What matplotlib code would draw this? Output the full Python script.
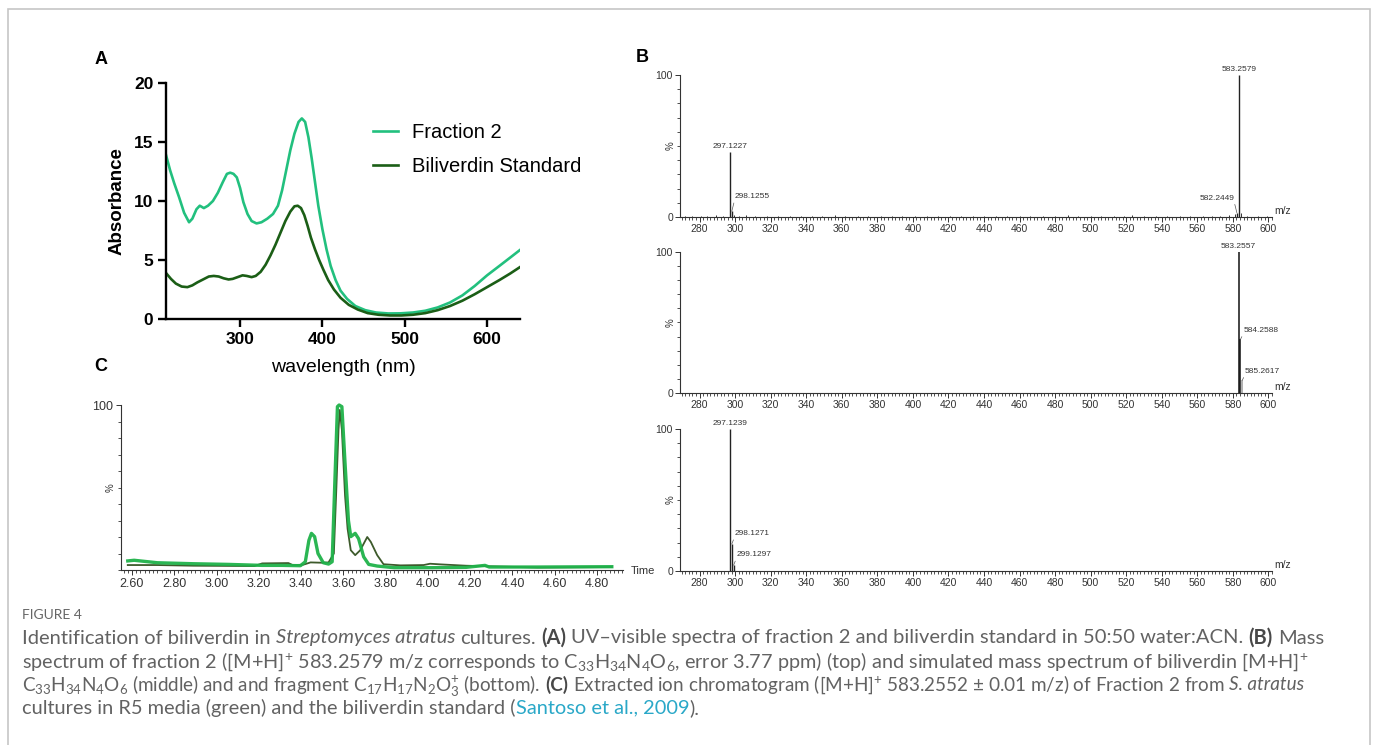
import matplotlib
matplotlib.use("Agg")
import matplotlib.pyplot as plt
from matplotlib.ticker import MultipleLocator

plt.rcParams['font.family'] = ['Liberation Sans', 'DejaVu Sans']
plt.rcParams['mathtext.fontset'] = 'custom'
plt.rcParams['mathtext.rm'] = 'Lato'
plt.rcParams['mathtext.it'] = 'Lato:italic'
plt.rcParams['mathtext.bf'] = 'Lato:bold'

# ---------------- data: panel A (UV-vis) ----------------
wl_frac = [210, 215, 220, 226, 232, 238, 242, 247, 251, 256, 261, 267, 273, 279, 284, 288,
           292, 296, 300, 304, 309, 314, 320, 326, 333, 340, 346, 351, 356, 361, 366, 371,
           375, 379, 383, 387, 391, 395, 400, 405, 410, 416, 422, 430, 440, 452, 465, 480,
           495, 510, 525, 540, 555, 570, 585, 600, 615, 628, 640]
abs_frac = [13.9, 12.6, 11.5, 10.3, 9.0, 8.2, 8.5, 9.3, 9.6, 9.4, 9.6, 10.0, 10.7, 11.6, 12.3, 12.4,
            12.3, 12.0, 11.1, 9.9, 8.9, 8.3, 8.1, 8.2, 8.5, 8.9, 9.6, 10.9, 12.6, 14.3, 15.7, 16.7,
            17.0, 16.7, 15.4, 13.6, 11.6, 9.6, 7.6, 5.9, 4.5, 3.3, 2.4, 1.7, 1.1, 0.75, 0.55, 0.47,
            0.48, 0.55, 0.7, 0.98, 1.4, 2.0, 2.8, 3.7, 4.5, 5.2, 5.85]

wl_std = [210, 216, 222, 229, 236, 242, 248, 255, 262, 268, 274, 280, 286, 291, 297, 303,
          308, 314, 319, 325, 331, 337, 343, 349, 355, 361, 366, 370, 374, 378, 382, 386,
          391, 396, 401, 407, 414, 422, 432, 443, 455, 468, 482, 496, 510, 525, 540, 555,
          570, 585, 600, 615, 628, 640]
abs_std = [3.9, 3.4, 3.0, 2.75, 2.7, 2.85, 3.1, 3.35, 3.6, 3.65, 3.6, 3.45, 3.35, 3.4, 3.55, 3.7,
           3.65, 3.55, 3.65, 4.0, 4.6, 5.4, 6.3, 7.3, 8.3, 9.1, 9.55, 9.6, 9.4, 8.8, 7.9, 6.9,
           5.9, 5.0, 4.2, 3.3, 2.5, 1.8, 1.2, 0.8, 0.5, 0.36, 0.3, 0.3, 0.36, 0.5, 0.75, 1.1,
           1.55, 2.1, 2.7, 3.3, 3.85, 4.4]

# ---------------- data: panel B (mass spectra) ----------------
top_mz = [297.1227, 298.1255, 582.2449, 583.2579]
top_int = [46, 4, 3, 100]
top_noise_mz = [272, 276, 281, 284, 289, 293, 299.1, 302, 306, 311, 318, 324, 331, 337, 343,
                349, 356, 362, 369, 375, 382, 388, 394, 401, 408, 414, 421, 427, 434, 440,
                447, 453, 460, 466, 473, 480, 487, 493, 500, 506, 513, 519, 523, 530, 537,
                543, 550, 556, 563, 568, 573, 578, 581, 584.3, 588, 594, 599]
top_noise_int = [0.6, 0.8, 1.0, 0.7, 1.2, 0.6, 1.5, 0.8, 1.2, 0.7, 0.6, 0.8, 0.7, 0.9, 0.6,
                 1.0, 1.2, 0.6, 0.8, 0.7, 0.9, 0.6, 0.8, 0.7, 0.6, 0.9, 0.7, 0.6, 0.8, 1.0,
                 0.6, 0.8, 0.7, 0.6, 0.8, 0.7, 1.6, 0.7, 0.8, 0.6, 0.9, 0.7, 1.5, 0.6, 0.8,
                 0.7, 0.8, 0.6, 0.9, 0.7, 1.0, 1.2, 1.8, 2.5, 0.8, 0.6, 0.7]
mid_mz = [583.2557, 584.2588, 585.2617]
mid_int = [100, 38, 9]
bot_mz = [297.1239, 298.1271, 299.1297]
bot_int = [100, 19, 4]
mz_ticks = list(range(280, 601, 20))

# ---------------- data: panel C (extracted ion chromatogram) ----------------
t_frac = [2.58, 2.61, 2.72, 2.89, 3.056, 3.216, 3.31, 3.397, 3.42, 3.437, 3.449, 3.464, 3.48,
          3.505, 3.53, 3.547, 3.56, 3.572, 3.58, 3.593, 3.608, 3.624, 3.635, 3.656, 3.672,
          3.696, 3.72, 3.76, 3.84, 4.02, 4.18, 4.27, 4.29, 4.52, 4.87]
i_frac = [5.5, 5.9, 4.4, 3.8, 3.4, 2.8, 2.8, 2.6, 5.0, 18, 22.2, 20.2, 10,
          4.4, 3.6, 5.0, 54.5, 99, 100, 99, 64.6, 30, 20.2, 22.2, 19,
          8, 3.4, 2.4, 1.4, 1.4, 1.6, 2.8, 1.8, 1.8, 2.0]
t_std = [2.58, 2.72, 2.89, 3.18, 3.216, 3.34, 3.36, 3.41, 3.445, 3.50, 3.53, 3.555, 3.567,
         3.577, 3.583, 3.593, 3.608, 3.62, 3.635, 3.656, 3.68, 3.713, 3.73, 3.76, 3.79,
         3.87, 3.98, 4.01, 4.06, 4.18, 4.52, 4.87]
i_std = [3.0, 3.0, 2.6, 2.4, 4.0, 4.2, 3.0, 3.2, 4.6, 4.4, 4.6, 10, 50,
         85, 97, 85, 45, 25, 12, 9, 12, 20, 17, 9, 3.5,
         2.8, 3.0, 3.8, 3.4, 2.6, 1.5, 1.8]
time_ticks = [2.6, 2.8, 3.0, 3.2, 3.4, 3.6, 3.8, 4.0, 4.2, 4.4, 4.6, 4.8]

W, H = 1375, 745
fig = plt.figure(figsize=(W / 100, H / 100), dpi=100)


def fbox(left, top, right, bottom):
    # pixel box -> figure fraction
    return [left / W, 1 - bottom / H, (right - left) / W, (bottom - top) / H]


# outer frame
fig.add_artist(plt.Rectangle((8 / W, -0.02), 1362 / W, 1 - 9 / H + 0.02, transform=fig.transFigure,
                             fill=False, edgecolor='#c6c6c6', lw=1.2))

# -------- Panel A --------
axA = fig.add_axes(fbox(166, 83, 520, 319))
axA.plot(wl_frac, abs_frac, color='#22c07e', lw=1.9, label='Fraction 2', solid_joinstyle='round')
axA.plot(wl_std, abs_std, color='#1b5e16', lw=1.9, label='Biliverdin Standard', solid_joinstyle='round')
axA.set_xlim(210, 640)
axA.set_ylim(0, 20)
axA.set_xticks([300, 400, 500, 600])
axA.set_yticks([0, 5, 10, 15, 20])
for s in ['top', 'right']:
    axA.spines[s].set_visible(False)
for s in ['left', 'bottom']:
    axA.spines[s].set_linewidth(1.7)
axA.tick_params(width=1.7, length=6, labelsize=12.5, pad=3)
plt.setp(axA.get_xticklabels() + axA.get_yticklabels(), fontweight='bold')
axA.set_xlabel('wavelength (nm)', fontsize=14, labelpad=9)
axA.set_ylabel('Absorbance', fontsize=13.5, fontweight='bold', labelpad=6)
axA.legend(loc='upper left', bbox_to_anchor=(0.585, 0.83), frameon=False, fontsize=14.5,
           handlelength=1.25, handletextpad=0.7, labelspacing=0.75, borderpad=0, borderaxespad=0)

# -------- Panel B --------
def spec_axes(box):
    ax = fig.add_axes(box)
    ax.set_xlim(269, 602)
    ax.set_ylim(0, 100)
    for s in ['top', 'right']:
        ax.spines[s].set_visible(False)
    for s in ['left', 'bottom']:
        ax.spines[s].set_linewidth(0.8)
        ax.spines[s].set_color('#333333')
    ax.set_xticks(mz_ticks)
    ax.xaxis.set_minor_locator(MultipleLocator(2))
    ax.set_yticks([0, 100])
    ax.set_yticklabels(['0', '100'])
    ax.yaxis.set_minor_locator(MultipleLocator(10))
    ax.tick_params(which='major', length=3.5, width=0.7, labelsize=7.5, pad=1.5, colors='#333333')
    ax.tick_params(which='minor', length=2, width=0.6, colors='#333333')
    ax.text(-0.016, 0.5, '%', rotation=90, transform=ax.transAxes, ha='center', va='center',
            fontsize=7, color='#333333')
    ax.text(1.004, 0.04, 'm/z', transform=ax.transAxes, ha='left', va='center', fontsize=7.5,
            color='#333333')
    return ax


lbl = dict(fontsize=6, color='#333333', textcoords='offset points')


def leader(relx):
    return dict(arrowstyle='-', lw=0.5, color='#555555', shrinkA=0, shrinkB=0, relpos=(relx, 0))


axB1 = spec_axes(fbox(680, 75, 1272, 217))
axB1.vlines(top_noise_mz, 0, top_noise_int, color='#333333', lw=0.7)
axB1.vlines(top_mz, 0, top_int, color='#222222', lw=1.0, clip_on=False)
axB1.annotate('297.1227', xy=(top_mz[0], top_int[0]), xytext=(0, 1.5), ha='center', va='bottom', **lbl)
axB1.annotate('298.1255', xy=(top_mz[1], top_int[1]), xytext=(2, 8), ha='left', va='bottom',
              arrowprops=leader(0), **lbl)
axB1.annotate('582.2449', xy=(top_mz[2], top_int[2]), xytext=(-2, 8), ha='right', va='bottom',
              arrowprops=leader(1), **lbl)
axB1.annotate('583.2579', xy=(top_mz[3], top_int[3]), xytext=(0, 1.5), ha='center', va='bottom',
              annotation_clip=False, **lbl)

axB2 = spec_axes(fbox(680, 252, 1272, 393))
axB2.vlines(mid_mz[:2], 0, mid_int[:2], color='#111111', lw=1.1, clip_on=False)
axB2.vlines(mid_mz[2:], 0, mid_int[2:], color='#9a9a9a', lw=1.1)
axB2.annotate('583.2557', xy=(mid_mz[0], mid_int[0]), xytext=(0, 1.5), ha='center', va='bottom',
              annotation_clip=False, **lbl)
axB2.annotate('584.2588', xy=(mid_mz[1], mid_int[1]), xytext=(2, 4), ha='left', va='bottom',
              arrowprops=leader(0), **lbl)
axB2.annotate('585.2617', xy=(mid_mz[2], mid_int[2]), xytext=(2, 4), ha='left', va='bottom',
              arrowprops=leader(0), **lbl)

axB3 = spec_axes(fbox(680, 429, 1272, 571))
axB3.vlines(bot_mz, 0, bot_int, color='#222222', lw=1.0, clip_on=False)
axB3.annotate('297.1239', xy=(bot_mz[0], bot_int[0]), xytext=(0, 1.5), ha='center', va='bottom',
              annotation_clip=False, **lbl)
axB3.annotate('298.1271', xy=(bot_mz[1], bot_int[1]), xytext=(2, 5), ha='left', va='bottom',
              arrowprops=leader(0), **lbl)
axB3.annotate('299.1297', xy=(bot_mz[2], bot_int[2]), xytext=(2, 5), ha='left', va='bottom',
              arrowprops=leader(0), **lbl)

# -------- Panel C --------
axC = fig.add_axes(fbox(121, 405, 623, 570))
axC.plot(t_std, i_std, color='#3d5a2b', lw=1.3, clip_on=False)
axC.plot(t_frac, i_frac, color='#1fb24a', lw=2.4, clip_on=False, alpha=0.95)
axC.set_xlim(2.548, 4.923)
axC.set_ylim(0, 100)
for s in ['top', 'right']:
    axC.spines[s].set_visible(False)
for s in ['left', 'bottom']:
    axC.spines[s].set_linewidth(0.8)
    axC.spines[s].set_color('#333333')
axC.set_xticks(time_ticks)
axC.set_xticklabels([f'{v:.2f}' for v in time_ticks])
axC.xaxis.set_minor_locator(MultipleLocator(0.02))
axC.set_yticks([100])
axC.set_yticklabels(['100'])
axC.yaxis.set_minor_locator(MultipleLocator(10))
axC.tick_params(which='major', length=3.5, width=0.7, labelsize=9, pad=2, colors='#333333')
axC.tick_params(which='minor', length=2, width=0.6, colors='#333333')
axC.text(-0.02, 0.5, '%', rotation=90, transform=axC.transAxes, ha='center', va='center',
         fontsize=7, color='#333333')
fig.text(631 / W, 1 - 571 / H, 'Time', fontsize=8, color='#333333', va='center', ha='left')

# panel letters
for letter, px, py in [('A', 101, 60), ('B', 642, 58), ('C', 101, 366)]:
    fig.text(px / W, 1 - py / H, letter, fontsize=13, fontweight='bold', ha='center', va='center')

# -------- Caption --------
cap_fs = 14.4
styles = {
    'r': dict(family='Lato', color='#626262'),
    'i': dict(family='Lato', color='#626262', style='italic'),
    'b': dict(family='Lato', color='#484848', weight='bold'),
    'l': dict(family='Lato', color='#2aa8c8'),
}
caption = [
    [("Identification of biliverdin in ", 'r'), ("Streptomyces atratus", 'i'), (" cultures. ", 'r'),
     ("(A)", 'b'), (" UV\u2013visible spectra of fraction 2 and biliverdin standard in 50:50 water:ACN. ", 'r'),
     ("(B)", 'b'), (" Mass", 'r')],
    [("spectrum of fraction 2 ([M+H]$^{+}$ 583.2579 m/z corresponds to C$_{33}$H$_{34}$N$_{4}$O$_{6}$, "
      "error 3.77 ppm) (top) and simulated mass spectrum of biliverdin [M+H]$^{+}$", 'r')],
    [("C$_{33}$H$_{34}$N$_{4}$O$_{6}$ (middle) and and fragment C$_{17}$H$_{17}$N$_{2}$O$_{3}^{+}$ (bottom). ", 'r'),
     ("(C)", 'b'), (" Extracted ion chromatogram ([M+H]$^{+}$ 583.2552 \u00b1 0.01 m/z) of Fraction 2 from ", 'r'),
     ("S. atratus", 'i')],
    [("cultures in R5 media (green) and the biliverdin standard (", 'r'), ("Santoso et al., 2009", 'l'),
     (").", 'r')],
]
line_y = [638, 662, 685, 708]
line_end = [1324, 1306, 1308, None]   # right edge of each line in the reference (px)

fig.text(22 / W, 1 - 615 / H, 'FIGURE 4', family='Lato', fontsize=10, color='#666666', va='center')

renderer = fig.canvas.get_renderer()


def width_px(s, st, fs):
    t = fig.text(0, 0, s, fontsize=fs, **st)
    w = t.get_window_extent(renderer).width
    t.remove()
    return w


def draw_line(segs, py, fs, keep=True):
    space_w = width_px('a a', styles['r'], fs) - width_px('aa', styles['r'], fs)
    x = 22.0
    made = []
    for s, key in segs:
        lead = len(s) - len(s.lstrip(' '))
        trail = len(s) - len(s.rstrip(' '))
        core = s.strip(' ')
        x += lead * space_w
        t = fig.text(x / W, 1 - py / H, core, va='center', ha='left', fontsize=fs, **styles[key])
        made.append(t)
        x += t.get_window_extent(renderer).width + trail * space_w
    if not keep:
        for t in made:
            t.remove()
    return x


for segs, py, end in zip(caption, line_y, line_end):
    fs = cap_fs
    if end is not None:
        natural = draw_line(segs, py, cap_fs, keep=False)
        fs = cap_fs * (end - 22) / (natural - 22)
    draw_line(segs, py, fs)

fig.savefig('out.png', dpi=100)
